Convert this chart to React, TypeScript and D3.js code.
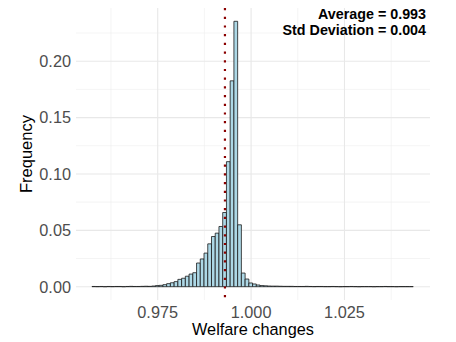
import React from "react";
import * as d3 from "d3";

const binStart = 0.9574;
const binWidth = 0.001;
const frequencies = [
  0.0002, 0.0001, 0.0002, 0, 0.0002, 0.0001, 0.0002, 0.0002, 0, 0.0002, 0.0003, 0.0002, 0.0002, 0.0003, 0.0004, 0.0003, 0.0006,
  0.0010, 0.0012, 0.0018, 0.0027, 0.0035, 0.0045, 0.0065, 0.0075, 0.0093, 0.0112, 0.0124, 0.0210, 0.0246, 0.0298,
  0.0380, 0.0445, 0.0475, 0.0534, 0.0658, 0.1109, 0.1826, 0.2354, 0.0549, 0.0121, 0.0068, 0.0033, 0.0024, 0.0015, 0.0010, 0.0008,
  0.0006, 0.0005, 0.0005, 0.0004, 0.0003, 0.0003, 0.0003, 0.0002, 0.0002, 0.0002, 0.0003, 0.0002, 0.0001, 0.0002, 0.0002,
  0.0001, 0.0001, 0.0002, 0.0001, 0, 0.0001, 0.0001, 0.0002, 0.0001, 0, 0.0001, 0.0001, 0.0001, 0, 0.0001, 0.0001, 0.0002,
  0.0001, 0.0001, 0, 0.0001, 0.0001, 0.0001, 0.0001,
];
const meanValue = 0.993;
const xTicks = [0.975, 1.0, 1.025];
const xMinor = [0.9625, 0.9875, 1.0125, 1.0375];
const yTicks = [0, 0.05, 0.1, 0.15, 0.2];
const yMinor = [0.025, 0.075, 0.125, 0.175, 0.225];
const annotations = ["Average = 0.993", "Std Deviation = 0.004"];
const xTitle = "Welfare changes";
const yTitle = "Frequency";

export default function App() {
  const W = 456, H = 342;
  const left = 76, right = 430, top = 8, bottom = 300;
  const x = d3.scaleLinear().domain([0.95313, 1.04789]).range([left, right]);
  const y = d3.scaleLinear().domain([-0.0118, 0.2472]).range([bottom, top]);
  const font = "'Liberation Sans', Arial, sans-serif";
  const bins = frequencies.map((f, i) => ({ x0: binStart + i * binWidth, x1: binStart + (i + 1) * binWidth, f }));
  const barPath = (b: { x0: number; x1: number; f: number }) => {
    const p = d3.path();
    p.rect(x(b.x0), y(b.f), x(b.x1) - x(b.x0), y(0) - y(b.f));
    return p.toString();
  };
  return (
    <svg width={W} height={H} style={{ position: "absolute", left: 0, top: 0, background: "#fff" }} fontFamily={font}>
      {yMinor.map((v) => (
        <line key={"ym" + v} x1={left} x2={right} y1={y(v)} y2={y(v)} stroke="#ededed" strokeWidth={0.6} />
      ))}
      {xMinor.map((v) => (
        <line key={"xm" + v} x1={x(v)} x2={x(v)} y1={top} y2={bottom} stroke="#ededed" strokeWidth={0.6} />
      ))}
      {yTicks.map((v) => (
        <line key={"yg" + v} x1={left} x2={right} y1={y(v)} y2={y(v)} stroke="#e8e8e8" strokeWidth={1.1} />
      ))}
      {xTicks.map((v) => (
        <line key={"xg" + v} x1={x(v)} x2={x(v)} y1={top} y2={bottom} stroke="#e8e8e8" strokeWidth={1.1} />
      ))}
      {bins.map((b, i) => (
        <path key={i} d={barPath(b)} fill="#ADD8E6" stroke="#1a1a1a" strokeWidth={0.8} />
      ))}
      <line
        x1={x(meanValue)}
        x2={x(meanValue)}
        y1={top}
        y2={bottom}
        stroke="#8B0000"
        strokeWidth={2.2}
        strokeDasharray="2.2 6.5"
      />
      {annotations.map((t, i) => (
        <text key={t} x={426} y={18.5 + i * 16.3} textAnchor="end" fontWeight="bold" fontSize={14.3} fill="#000">
          {t}
        </text>
      ))}
      {yTicks.map((v) => (
        <text key={"yl" + v} x={71} y={y(v)} dy="0.36em" textAnchor="end" fontSize={16.3} fill="#4d4d4d">
          {d3.format(".2f")(v)}
        </text>
      ))}
      {xTicks.map((v) => (
        <text key={"xl" + v} x={x(v)} y={318} textAnchor="middle" fontSize={16.3} fill="#4d4d4d">
          {d3.format(".3f")(v)}
        </text>
      ))}
      <text x={(left + right) / 2} y={335} textAnchor="middle" fontSize={16.3} fill="#000">
        {xTitle}
      </text>
      <text
        transform={`translate(32,${(top + bottom) / 2}) rotate(-90)`}
        textAnchor="middle"
        fontSize={16.5}
        fill="#000"
      >
        {yTitle}
      </text>
    </svg>
  );
}
